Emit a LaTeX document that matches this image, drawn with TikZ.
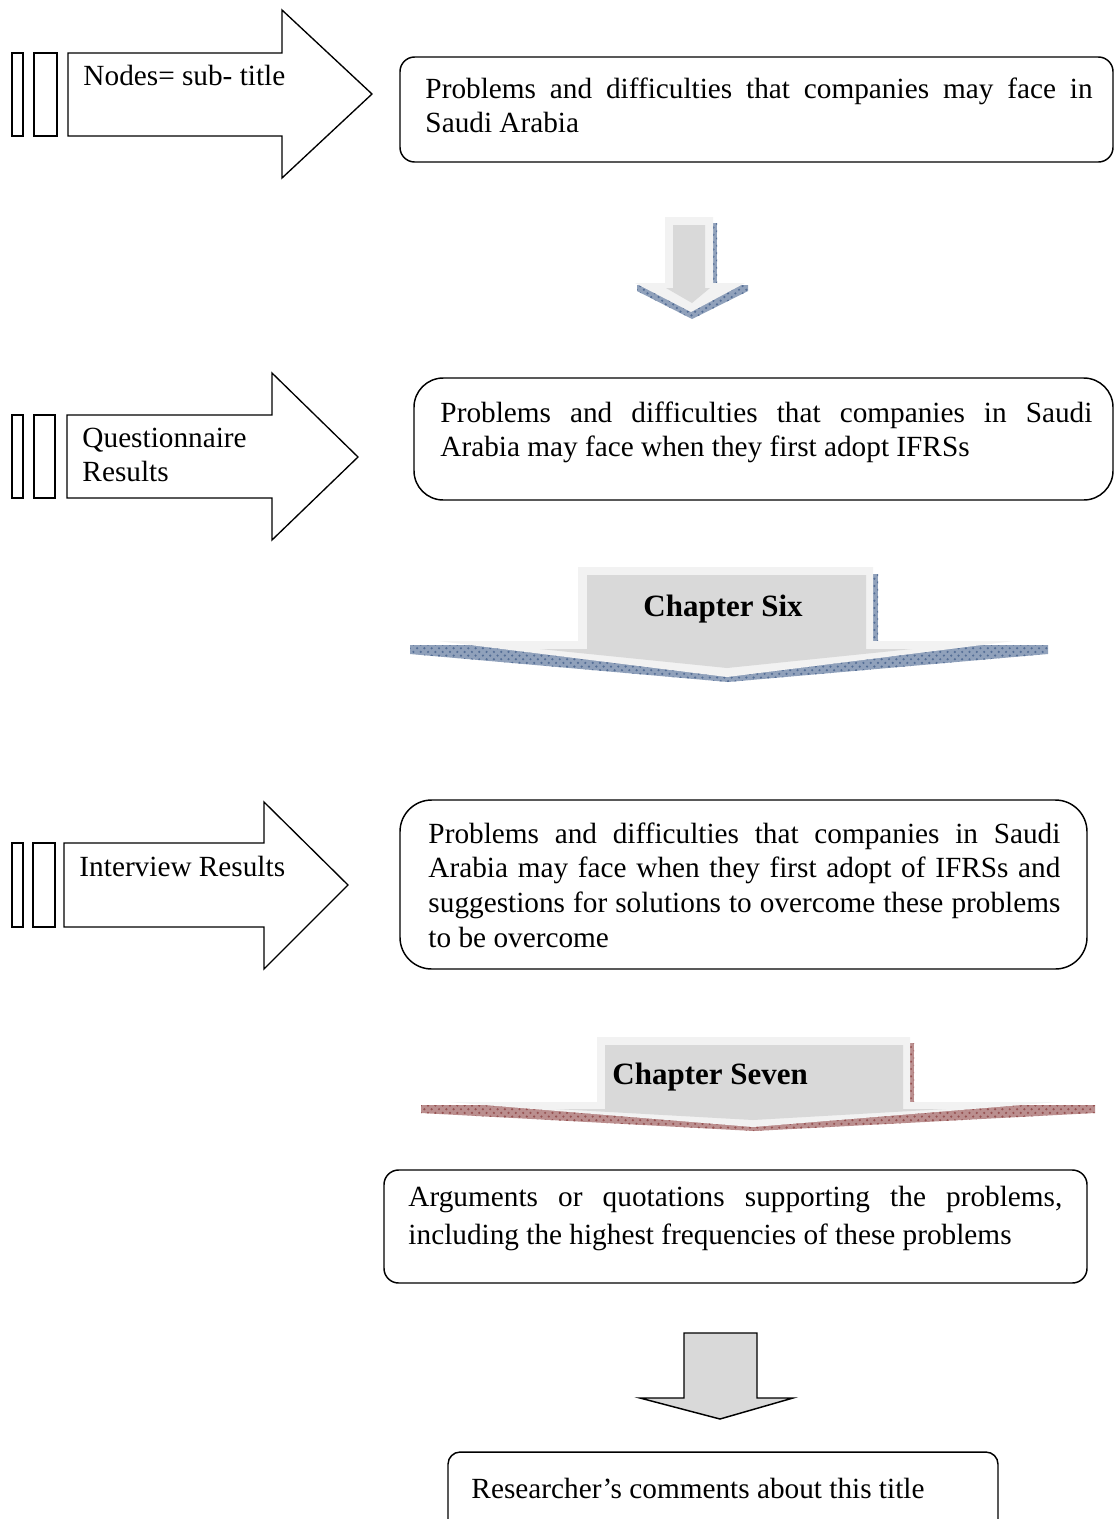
\documentclass[tikz,border=0pt]{standalone}
\usepackage{fontspec}
\setmainfont{Liberation Serif}
\usetikzlibrary{patterns}
\definecolor{shadeblue}{RGB}{84,110,150}
\definecolor{shadered}{RGB}{150,82,82}
\definecolor{lightfill}{RGB}{242,242,242}
\definecolor{midfill}{RGB}{217,217,217}

\begin{document}
\begin{tikzpicture}[x=0.41pt,y=-0.41pt,
	every node/.style={inner sep=0pt,font=\fontsize{12}{14.3}\selectfont},
	panel/.style={draw,line width=0.6pt},
	sidearrow/.style={draw,line width=0.55pt,fill=white},
	boxtext/.style={anchor=base west,align=justify},
	chaptext/.style={anchor=base west,font=\fontsize{12.7}{15}\selectfont\bfseries},
	blueshade/.style={fill=shadeblue!65,postaction={pattern=crosshatch dots,pattern color=shadeblue}},
	redshade/.style={fill=shadered!65,postaction={pattern=crosshatch dots,pattern color=shadered}}]
	\useasboundingbox (0,0) rectangle (1114,1519);
	
	% side arrows with their bars
	\begin{scope}
		\draw[sidearrow] (12,53) rectangle (23,136);
		\draw[sidearrow] (34,53) rectangle (57,136);
		\draw[sidearrow] (68,53) -- (282,53) -- (282,10) -- (372,94) -- (282,178) -- (282,136) -- (68,136) -- cycle;
		\node[anchor=base west] (nodes) at (83,85) {Nodes= sub- title};
	\end{scope}
	\begin{scope}
		\draw[sidearrow] (12,415) rectangle (23,498);
		\draw[sidearrow] (34,415) rectangle (55,498);
		\draw[sidearrow] (67,415) -- (272,415) -- (272,373) -- (358,457) -- (272,540) -- (272,498) -- (67,498) -- cycle;
		\node[anchor=base west,text width=110pt,align=left] (quest) at (82,447) {Questionnaire\\Results};
	\end{scope}
	\begin{scope}
		\draw[sidearrow] (12,843) rectangle (23,927);
		\draw[sidearrow] (33,843) rectangle (55,927);
		\draw[sidearrow] (64,843) -- (264,843) -- (264,802) -- (348,885) -- (264,969) -- (264,927) -- (64,927) -- cycle;
		\node[anchor=base west] (interview) at (79,876) {Interview Results};
	\end{scope}
	
	% rounded boxes
	\draw[panel,rounded corners=6pt] (400,57) rectangle (1113,162);
	\node[boxtext,text width=273.5pt] (faceSA) at (425,98)
		{Problems and difficulties that companies may face in\linebreak Saudi Arabia};
	\draw[panel,rounded corners=12pt] (414,378) rectangle (1113,500);
	\node[boxtext,text width=267.3pt] (firstadopt) at (440,422)
		{Problems and difficulties that companies in Saudi\linebreak Arabia may face when they first adopt IFRSs};
	\draw[panel,rounded corners=13pt] (400,800) rectangle (1087,969);
	\node[boxtext,text width=259.1pt] (solutions) at (428,843)
		{Problems and difficulties that companies in Saudi\linebreak Arabia may face when they first adopt of IFRSs and\linebreak suggestions for solutions to overcome these problems\linebreak to be overcome};
	\draw[panel,rounded corners=6pt] (384,1170) rectangle (1087,1283);
	\node[boxtext,text width=268.1pt,font=\fontsize{12}{15.6}\selectfont] (quotes) at (408,1206)
		{Arguments or quotations supporting the problems,\linebreak including the highest frequencies of these problems};
	\draw[panel,rounded corners=5pt] (448,1452) rectangle (998,1545);
	\node[anchor=base west] (comments) at (471,1498) {Researcher’s comments about this title};
	
	% shaded down arrows
	\fill[blueshade] (713,223) rectangle (717,284);
	\fill[blueshade] (637,285) -- (748,285) -- (748,291) -- (692,319) -- (637,291) -- cycle;
	\fill[lightfill] (665,217) -- (713,217) -- (713,283) -- (745,283) -- (691,312) -- (635,283) -- (665,283) -- cycle;
	\fill[midfill] (673,225) -- (705,225) -- (705,288) -- (710,288) -- (692,303) -- (666,288) -- (673,288) -- cycle;
	
	\fill[blueshade] (873,574) rectangle (878,645);
	\fill[blueshade] (410,645) -- (1048,645) -- (1048,654) -- (728,682) -- (410,654) -- cycle;
	\fill[lightfill] (578,567) -- (873,567) -- (873,641) -- (1014,641) -- (727,677) -- (438,641) -- (578,641) -- cycle;
	\fill[midfill] (587,575) -- (866,575) -- (866,649) -- (912,649) -- (727,668) -- (540,649) -- (587,649) -- cycle;
	\node[chaptext] (six) at (643,616) {Chapter Six};
	
	\fill[redshade] (910,1043) rectangle (914,1105);
	\fill[redshade] (421,1105) -- (1095,1105) -- (1095,1113) -- (754,1131) -- (421,1113) -- cycle;
	\fill[lightfill] (597,1037) -- (910,1037) -- (910,1102) -- (1058,1102) -- (753,1127) -- (448,1102) -- (597,1102) -- cycle;
	\fill[midfill] (605,1045) -- (903,1045) -- (903,1109) -- (946,1109) -- (753,1120) -- (556,1109) -- (605,1109) -- cycle;
	\node[chaptext] (seven) at (612,1084) {Chapter Seven};
	
	\draw[line width=0.6pt,fill=midfill] (684,1333) -- (757,1333) -- (757,1398) -- (793,1398) -- (720,1419) -- (640,1398) -- (684,1398) -- cycle;
\end{tikzpicture}
\end{document}
